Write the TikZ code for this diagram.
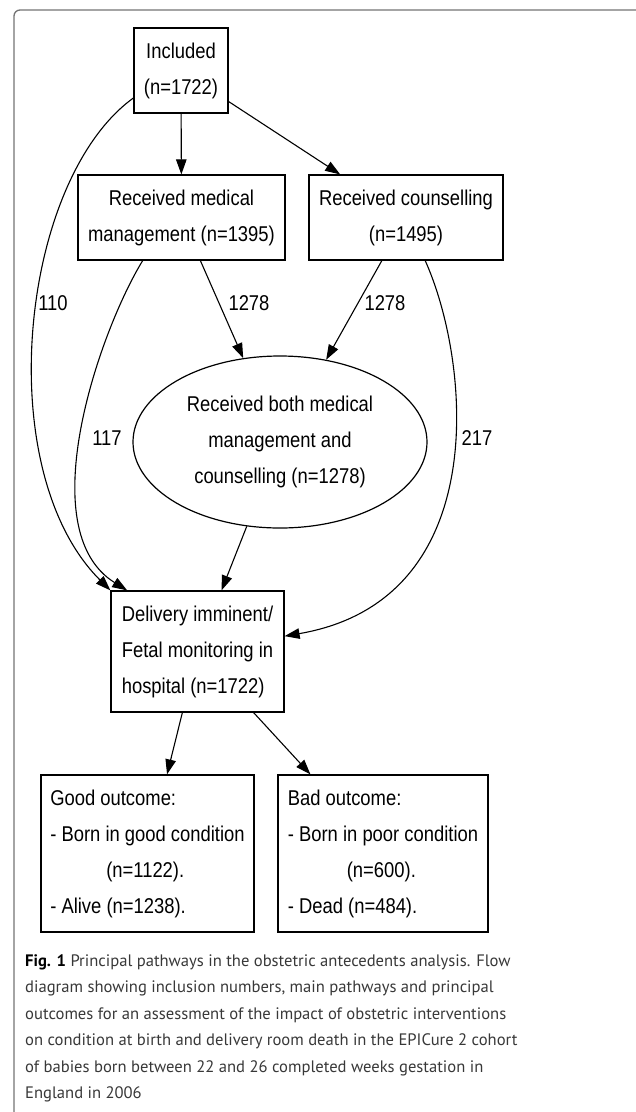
\documentclass[tikz,border=0pt]{standalone}
\usepackage{fontspec}
\setmainfont{PT Sans}
\newfontfamily\diagfont[FakeStretch=0.86]{Liberation Sans}
\usepackage{xcolor}
\usetikzlibrary{arrows.meta,shapes.geometric}
\tikzset{
  box/.style={draw, line width=1.2pt, align=center, inner sep=0pt, font=\diagfont\fontsize{21.4}{36}\selectfont},
  lbox/.style={box, align=left},
  oval/.style={box, ellipse},
  arr/.style={-{Triangle[length=15pt,width=10.5pt]}, line width=1.1pt},
  num/.style={inner sep=0pt, font=\diagfont\fontsize{21.4}{36}\selectfont},
}

\begin{document}
\begin{tikzpicture}[x=1pt, y=-1pt]
\useasboundingbox (0,0) rectangle (636,1112);
\draw[black!55, line width=1.3pt, rounded corners=6pt] (14,1125) -- (14,10) -- (650,10);
% boxes
\node[box, minimum width=94pt, minimum height=85pt] (inc) at (181,70.5) {Included\\(n=1722)};
\node[box, minimum width=207pt, minimum height=85pt] (med) at (181.5,217.5) {Received medical\\management (n=1395)};
\node[box, minimum width=194pt, minimum height=85pt] (cou) at (406,217.5) {Received counselling\\(n=1495)};
\node[oval, minimum width=294pt, minimum height=172pt] (both) at (280,442) {Received both medical\\management and\\counselling (n=1278)};
\node[lbox, minimum width=173pt, minimum height=121pt] (del) at (197.5,651.5) {Delivery imminent/\\Fetal monitoring in\\hospital (n=1722)};
\node[lbox, minimum width=213pt, minimum height=157pt] (good) at (147.5,853.5) {Good outcome:\\- Born in good condition\\\hspace*{56pt}(n=1122).\\- Alive (n=1238).};
\node[lbox, minimum width=210pt, minimum height=157pt] (bad) at (383,853.5) {Bad outcome:\\- Born in poor condition\\\hspace*{59pt}(n=600).\\- Dead (n=484).};
% counts
\node[num] (n110) at (53,303) {110};
\node[num] (n117) at (107,438) {117};
\node[num] (n1278a) at (249,303) {1278};
\node[num] (n1278b) at (385,303) {1278};
\node[num] (n217) at (477,438) {217};
% pathways
\draw[arr] (inc) -- (med);
\draw[arr] (inc) -- (cou);
\draw[arr] (med) -- (both);
\draw[arr] (cou) -- (both);
\draw[arr] (both) -- (del);
\draw[arr] (del) -- (good);
\draw[arr] (del) -- (bad);
\draw[arr] (inc.210) .. controls (20,180) and (-10,470) .. (del.north west);
\draw[arr] (med.228) .. controls (100,330) and (30,530) .. (del.139);
\draw[arr] (cou.-66) .. controls (470,360) and (495,600) .. (del.10);
% caption
\node[anchor=north west, align=left, inner sep=0pt, text=black!78, font=\fontsize{16.6}{26.5}\selectfont] (cap) at (25,954) {\textbf{\color{black}Fig. 1} Principal pathways in the obstetric antecedents analysis. Flow\\diagram showing inclusion numbers, main pathways and principal\\outcomes for an assessment of the impact of obstetric interventions\\on condition at birth and delivery room death in the EPICure 2 cohort\\of babies born between 22 and 26 completed weeks gestation in\\England in 2006};
\end{tikzpicture}
\end{document}
